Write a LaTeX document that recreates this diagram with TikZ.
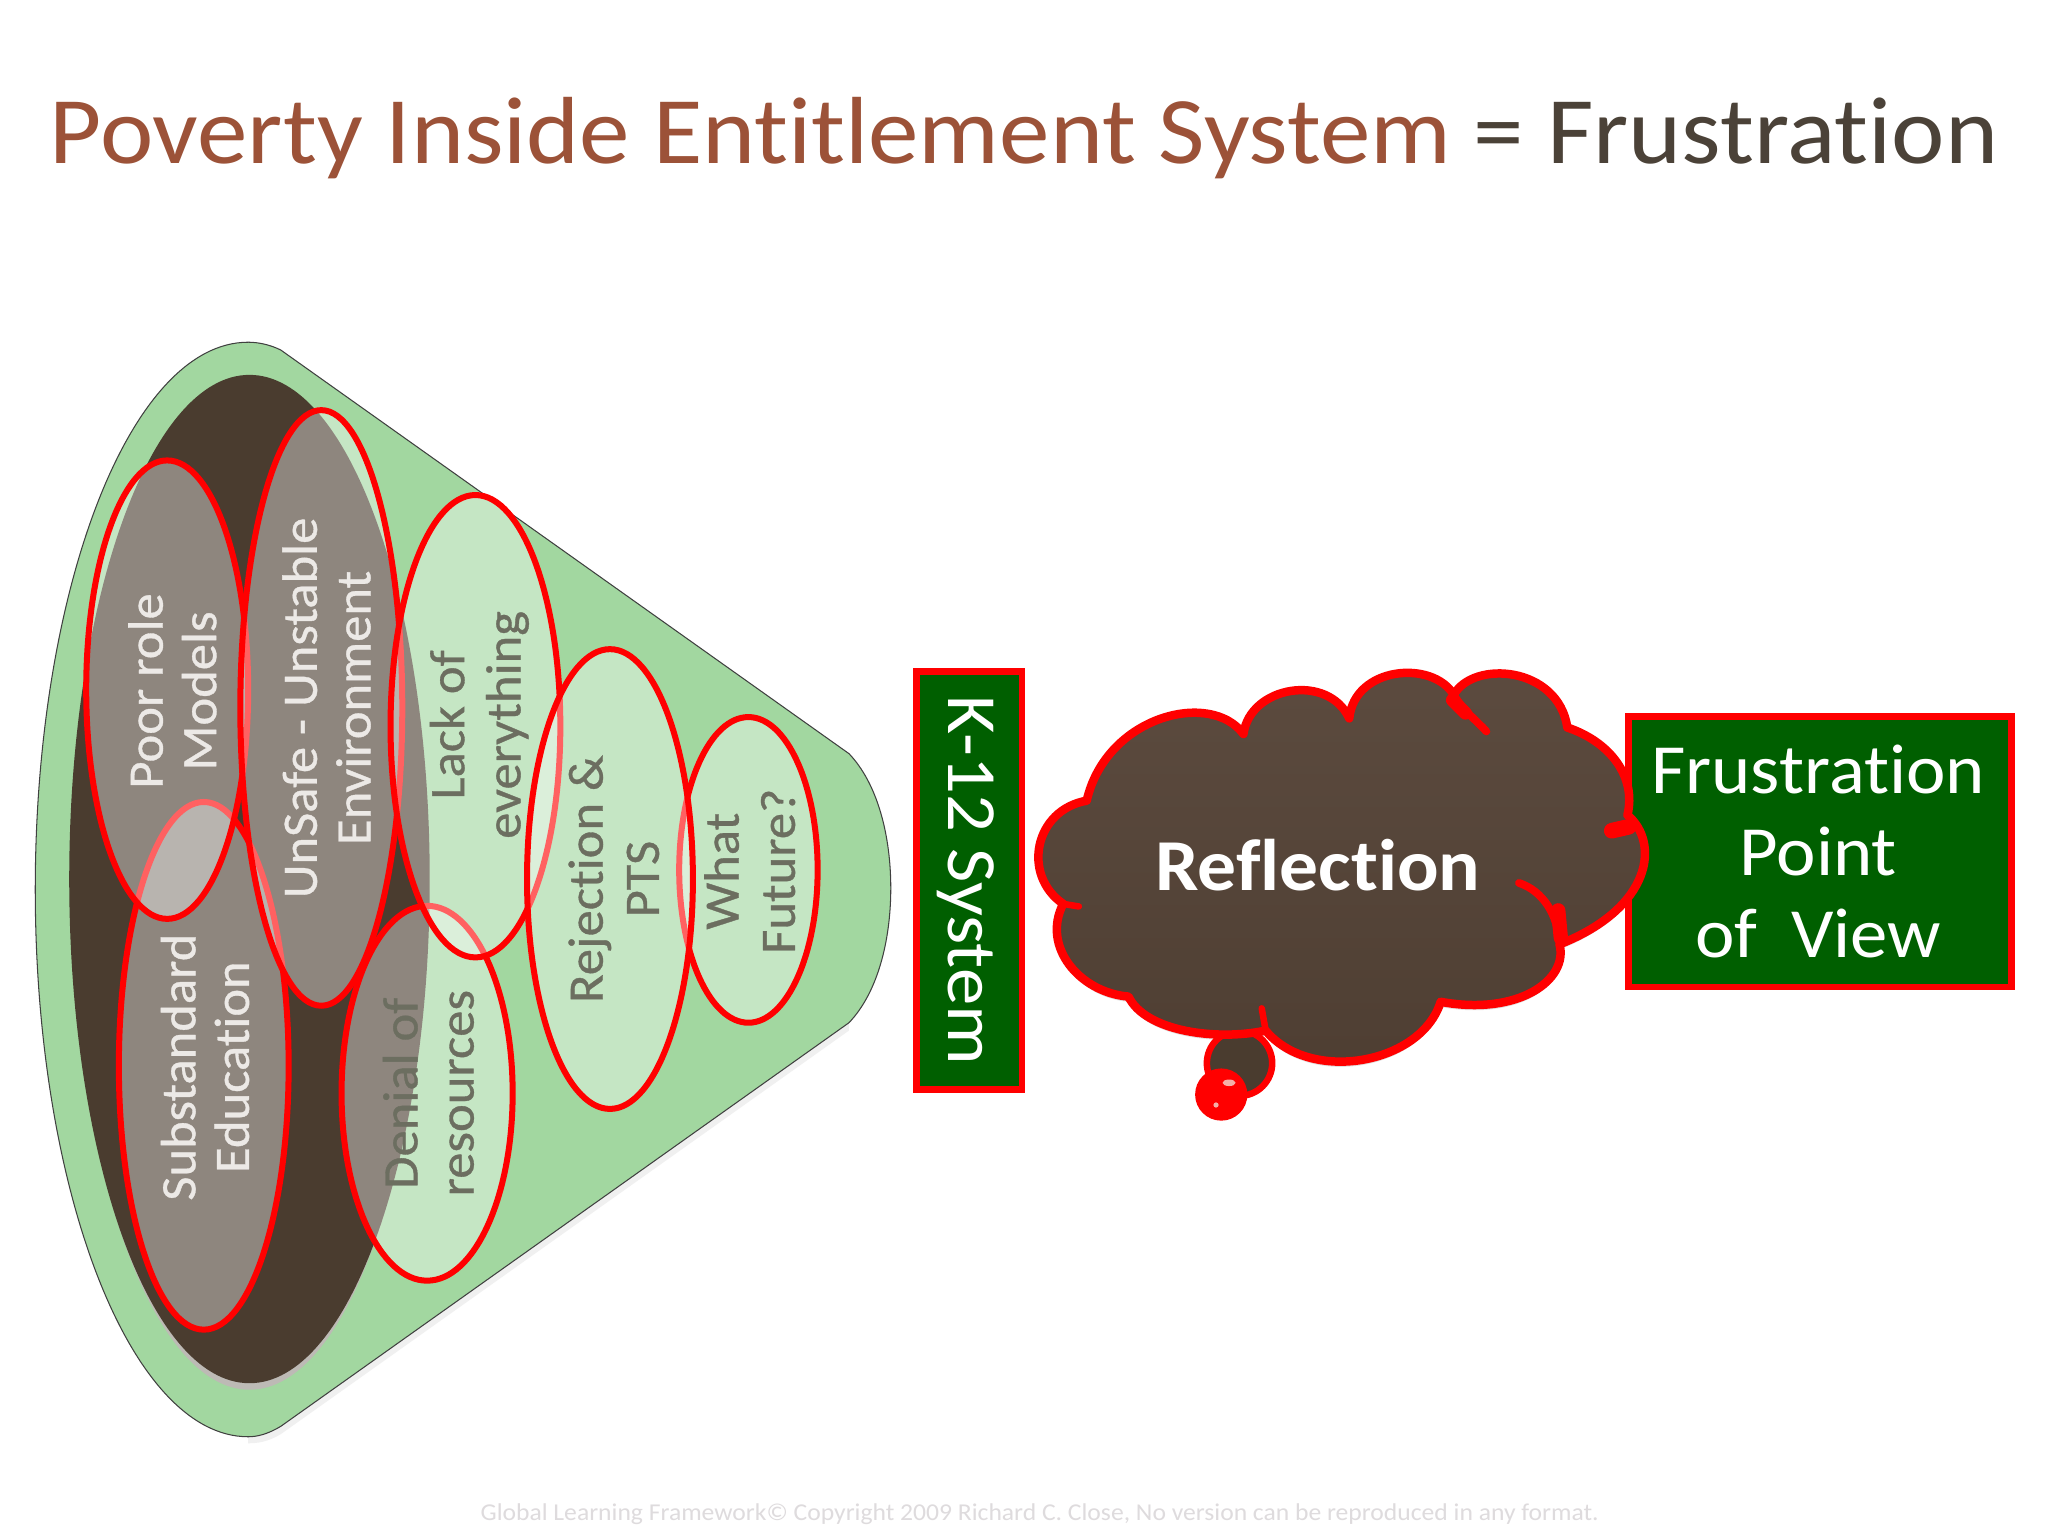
\documentclass[tikz,border=0pt]{standalone}
\usepackage{fontspec}
\setmainfont[FakeStretch=1.06,Ligatures=NoCommon]{Carlito}
\newfontfamily\lblfont[FakeStretch=1.06,FakeBold=0.7,Ligatures=NoCommon]{Carlito}
\usetikzlibrary{shadings,shapes.geometric}
\definecolor{conegreen}{HTML}{A2D7A0}
\definecolor{darkbrown}{HTML}{4A3C2F}
\definecolor{rimgray}{HTML}{BDBAB5}
\definecolor{titlebrown}{HTML}{9C5238}
\definecolor{titledark}{HTML}{4B4238}
\definecolor{boxgreen}{HTML}{005F00}
\definecolor{softwhite}{HTML}{ECE9E6}
\definecolor{softgray}{HTML}{6C6E60}
\definecolor{footgray}{HTML}{DEDBDD}
\definecolor{cloudtop}{HTML}{5C4B3F}
\definecolor{cloudbot}{HTML}{4E3E32}
\definecolor{holepink}{HTML}{F4B0A8}
\tikzset{
  blob/.style={ellipse,draw=red,line width=4.6pt,fill=white,fill opacity=0.38,draw opacity=1,inner sep=0pt},
  labelw/.style={rotate=90,align=center,text=softwhite,font=\lblfont\fontsize{38}{41}\selectfont,inner sep=0pt},
  labelg/.style={rotate=90,align=center,text=softgray,font=\lblfont\fontsize{38}{43}\selectfont,inner sep=0pt},
  greenbox/.style={draw=red,line width=5pt,fill=boxgreen,text=white,inner sep=0pt,align=center},
}
\begin{document}
\begin{tikzpicture}[x=1pt,y=-1pt]
\useasboundingbox (0,0) rectangle (1568,1176);
\fill[white] (0,0) rectangle (1568,1176);
% title
\node[anchor=base west,inner sep=0pt,font=\fontsize{73}{80}\selectfont,text=titlebrown] (title) at (38,125) {Poverty Inside Entitlement System \textcolor{titledark}{= Frustration}};
% cone
\fill[black!6] (215,274) -- (650,583) -- (650,789) -- (215,1098) .. controls (205,1104) and (197,1105) .. (190,1105) -- (190,268) -- cycle;
\draw[black!75,line width=0.8pt,fill=conegreen] (215,268) -- (650,577) .. controls (672,600) and (682,640) .. (682,680) .. controls (682,720) and (672,760) .. (650,783) -- (215,1092) .. controls (205,1098) and (197,1100) .. (190,1100) .. controls (100,1100) and (27,912) .. (27,681) .. controls (27,450) and (100,262) .. (190,262) .. controls (198,262) and (207,264) .. (215,268) -- cycle;
\fill[rimgray] (191,676) ellipse [x radius=136,y radius=388];
\fill[darkbrown] (191,673) ellipse [x radius=138,y radius=386];
% ellipses
\node[blob,minimum width=130pt,minimum height=404pt] (subst) at (156,816) {};
\node[blob,minimum width=124pt,minimum height=351pt] (poor) at (128,528) {};
\node[blob,minimum width=124pt,minimum height=456pt] (unsafe) at (246,542) {};
\node[blob,minimum width=131pt,minimum height=287pt] (denial) at (327,837) {};
\node[blob,minimum width=130pt,minimum height=354pt] (lack) at (364,556) {};
\node[blob,minimum width=106pt,minimum height=234pt] (what) at (573,666) {};
\node[blob,minimum width=127pt,minimum height=352pt] (reject) at (467,673) {};
% labels
\node[labelw] (tpoor) at (132,529) {Poor role\\Models};
\node[labelw] (tunsafe) at (250,542) {UnSafe - Unstable\\Environment};
\node[labelw] (tsubst) at (157,817) {Substandard\\Education};
\node[labelg] (tdenial) at (328,837) {Denial of\\resources};
\node[labelg] (tlack) at (367,555) {Lack of\\everything};
\node[labelg] (treject) at (470,673) {Rejection \&\\PTS};
\node[labelg] (twhat) at (574,667) {What\\Future?};
% k-12
\node[greenbox,minimum width=81pt,minimum height=320pt] (k12) at (742,674) {};
\node[rotate=-90,text=white,font=\fontsize{54}{56}\selectfont,inner sep=0pt] (tk12) at (739,674) {K-12 System};
% frustration
\node[greenbox,minimum width=293pt,minimum height=207pt] (frus) at (1393.5,652) {};
\node[text=white,font=\fontsize{54}{63}\selectfont,align=center,inner sep=0pt] (tfrus) at (1392,652) {Frustration\\Point\\of~~View};
% cloud
\def\cloudpath{(832,613) .. controls (847,548) and (927,528) .. (952,562) .. controls (957,525) and (1017,515) .. (1033,550) .. controls (1037,510) and (1097,505) .. (1113,532) .. controls (1128,505) and (1193,510) .. (1200,557) .. controls (1233,568) and (1253,595) .. (1246,624) .. controls (1271,645) and (1265,695) .. (1194,723) .. controls (1201,750) and (1163,778) .. (1103,767) .. controls (1088,815) and (1003,830) .. (969,789) .. controls (932,797) and (877,790) .. (864,763) .. controls (827,760) and (797,725) .. (814,692) .. controls (782,670) and (792,620) .. (832,613) -- cycle}
\fill[black!12] [shift={(0,4)}] \cloudpath;
% tail ring
\draw[red,line width=5pt,fill=darkbrown] (949,814) circle [radius=25];
\draw[red,line width=6.5pt,line join=round,top color=cloudtop,bottom color=cloudbot] \cloudpath;
\fill[red] (935,838) circle [radius=20];
\fill[holepink] (941,829) ellipse [x radius=5,y radius=2.5];
\fill[holepink] (931,846) circle [radius=2];
\draw[red,line width=6pt,line cap=round] (1113,532) .. controls (1121,545) and (1131,552) .. (1138,560);
\draw[red,line width=10pt,line cap=round] (1112,536) -- (1122,546);
\draw[red,line width=6pt,line cap=round] (1163,676) .. controls (1181,682) and (1193,700) .. (1194,723);
\draw[red,line width=11pt,line cap=round] (1193,697) -- (1195,718);
\draw[red,line width=12pt,line cap=round] (1234,636) -- (1247,633);
\draw[red,line width=5pt,line cap=round] (814,692) -- (826,694);
\draw[red,line width=5pt,line cap=round] (969,789) -- (966,772);
\node[text=white,font=\bfseries\fontsize{56}{60}\selectfont,inner sep=0pt] (trefl) at (1009,662) {Reflection};
% footer
\node[text=footgray,font=\fontsize{18.5}{20}\selectfont,inner sep=0pt] (foot) at (796,1159) {Global Learning Framework© Copyright 2009 Richard C. Close, No version can be reproduced in any format.};
\end{tikzpicture}
\end{document}
